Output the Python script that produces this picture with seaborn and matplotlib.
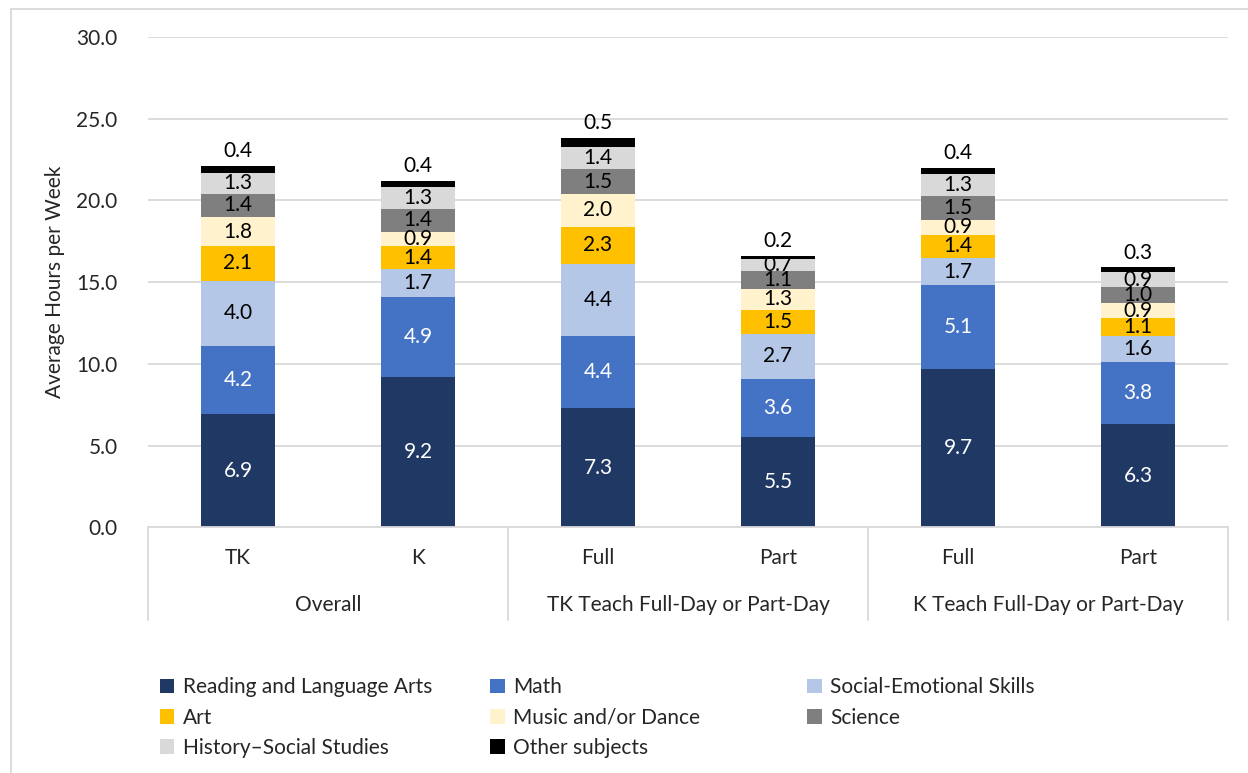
import matplotlib
matplotlib.use("Agg")
import matplotlib.pyplot as plt
import matplotlib.patches as mpatches
from matplotlib.lines import Line2D
import matplotlib.transforms as mtransforms
import seaborn as sns
import numpy as np
import pandas as pd

# data
bar_ids = ["o_tk", "o_k", "tk_full", "tk_part", "k_full", "k_part"]
bar_labels = ["TK", "K", "Full", "Part", "Full", "Part"]
groups = ["Overall", "TK Teach Full-Day or Part-Day", "K Teach Full-Day or Part-Day"]

subjects = ["Reading and Language Arts", "Math", "Social-Emotional Skills", "Art",
            "Music and/or Dance", "Science", "History\u2013Social Studies", "Other subjects"]
colors = ["#203864", "#4472C4", "#B4C7E7", "#FFC000", "#FFF2CC", "#7F7F7F", "#D9D9D9", "#000000"]

reading = [6.9, 9.2, 7.3, 5.5, 9.7, 6.3]
math = [4.2, 4.9, 4.4, 3.6, 5.1, 3.8]
social_emotional = [4.0, 1.7, 4.4, 2.7, 1.7, 1.6]
art = [2.1, 1.4, 2.3, 1.5, 1.4, 1.1]
music = [1.8, 0.9, 2.0, 1.3, 0.9, 0.9]
science = [1.4, 1.4, 1.5, 1.1, 1.5, 1.0]
history = [1.3, 1.3, 1.4, 0.7, 1.3, 0.9]
other = [0.4, 0.4, 0.5, 0.2, 0.4, 0.3]

series = [reading, math, social_emotional, art, music, science, history, other]

sns.set_style("white")
plt.rcParams["font.family"] = ["Lato", "DejaVu Sans"]
FS = 15

fig = plt.figure(figsize=(12.48, 7.73), dpi=100)
ax = fig.add_axes([0.1186, 0.318, 0.8654, 0.634])

bottom = np.zeros(len(bar_ids))
for i, (name, vals, col) in enumerate(zip(subjects, series, colors)):
    df = pd.DataFrame({"bar": bar_ids, "hours": vals})
    sns.barplot(data=df, x="bar", y="hours", order=bar_ids, color=col, bottom=bottom,
                width=0.41, ax=ax, saturation=1, errorbar=None, linewidth=0)
    vals = np.array(vals)
    for j, v in enumerate(vals):
        if i == len(series) - 1:
            ax.text(j, bottom[j] + v + 0.3, f"{v:.1f}", ha="center", va="bottom",
                    fontsize=FS, color="black")
        else:
            ax.text(j, bottom[j] + v / 2, f"{v:.1f}", ha="center", va="center",
                    fontsize=FS, color="white" if i < 2 else "black")
    bottom = bottom + vals

ax.set_ylim(0, 30)
ax.set_xlim(-0.5, 5.5)
ax.set_yticks(np.arange(0, 31, 5))
ax.set_yticklabels([f"{t:.1f}" for t in np.arange(0, 31, 5)], fontsize=FS)
ax.tick_params(axis="y", length=0, pad=22)
ax.yaxis.grid(True, color="#D9D9D9", linewidth=1.3)
ax.set_axisbelow(True)
ax.set_ylabel("Average Hours per Week", fontsize=FS, labelpad=8)
ax.set_xlabel("")
ax.set_xticks([])
for s in ["top", "right", "left"]:
    ax.spines[s].set_visible(False)
ax.spines["bottom"].set_color("#D9D9D9")
ax.spines["bottom"].set_linewidth(1.3)

# two-level category axis
trans = mtransforms.blended_transform_factory(ax.transData, ax.transAxes)
for j, lab in enumerate(bar_labels):
    ax.text(j, -0.063, lab, transform=trans, ha="center", va="center", fontsize=FS)
for g, name in enumerate(groups):
    ax.text(2 * g + 0.5, -0.159, name, transform=trans, ha="center", va="center", fontsize=FS)
for xs in [-0.5, 1.5, 3.5, 5.5]:
    ax.add_line(Line2D([xs, xs], [0, -0.19], transform=trans, color="#D9D9D9",
                       linewidth=1.3, clip_on=False))

# legend laid out as three equal columns
order = [[0, 3, 6], [1, 4, 7], [2, 5]]
col_x = [0.128, 0.393, 0.647]
for cx, idxs in zip(col_x, order):
    handles = [mpatches.Patch(facecolor=colors[k], edgecolor="none", label=subjects[k]) for k in idxs]
    fig.legend(handles=handles, loc="upper left", bbox_to_anchor=(cx, 0.124), frameon=False,
               fontsize=FS, handlelength=0.7, handleheight=0.7, handletextpad=0.4,
               labelspacing=0.5, borderaxespad=0, borderpad=0)

# chart-area frame (top and left edges visible)
fig.add_artist(Line2D([11 / 1248, 1], [1 - 9 / 773, 1 - 9 / 773], transform=fig.transFigure,
                      color="#D9D9D9", linewidth=1.3))
fig.add_artist(Line2D([11 / 1248, 11 / 1248], [0, 1 - 9 / 773], transform=fig.transFigure,
                      color="#D9D9D9", linewidth=1.3))

fig.savefig("out.png", dpi=100)
